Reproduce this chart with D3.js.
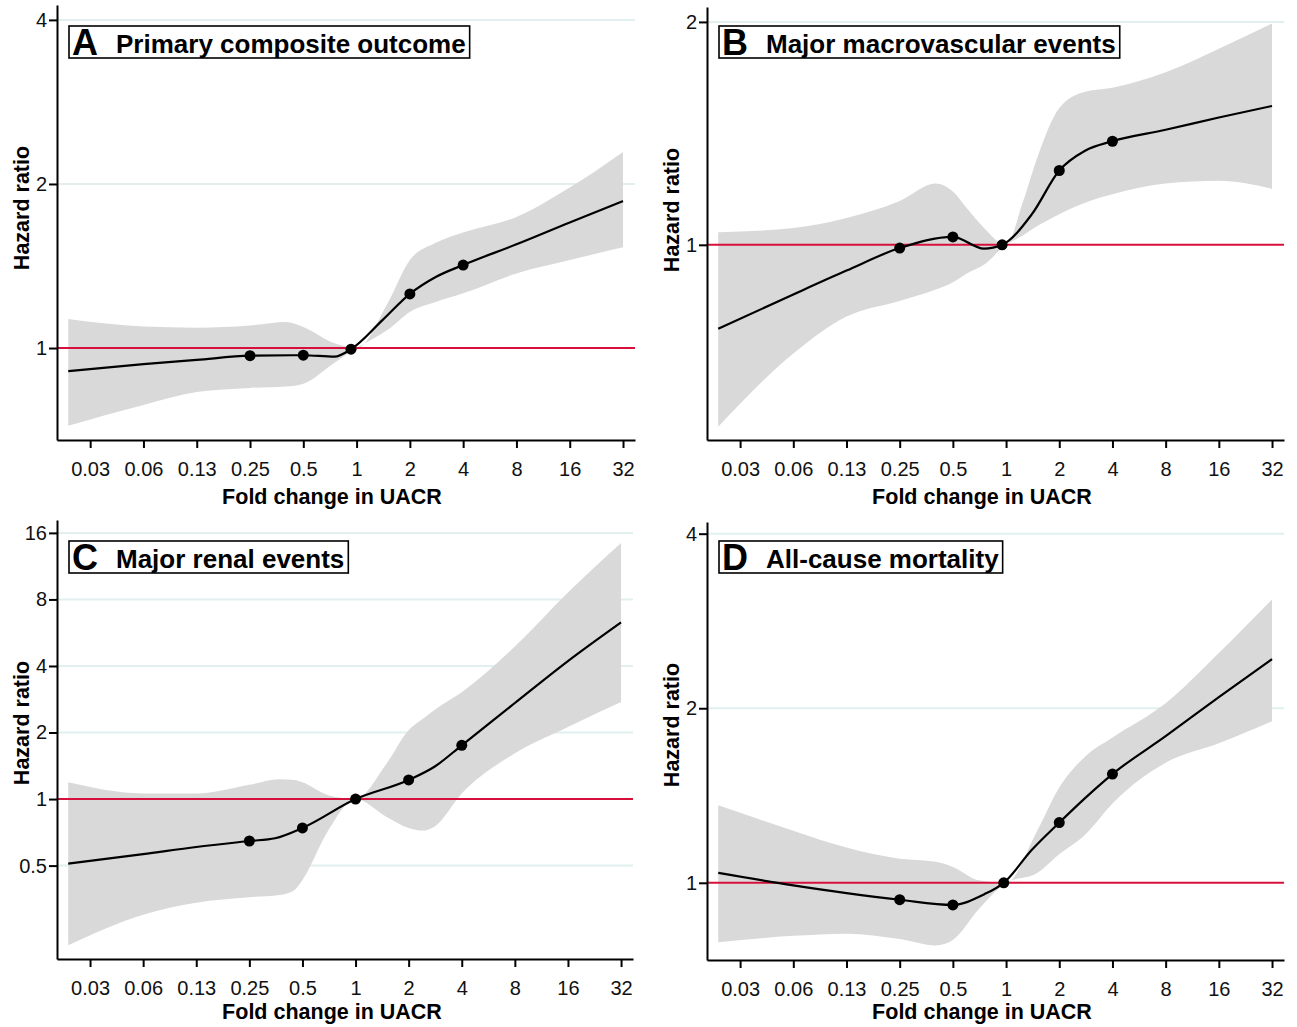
<!DOCTYPE html>
<html>
<head>
<meta charset="utf-8">
<script src="https://cdn.jsdelivr.net/npm/d3@7"></script>
<style>
  body { margin: 0; background: #fff; }
  svg { display: block; font-family: "Liberation Sans", Arial, sans-serif; }
</style>
</head>
<body>
<div id="wrapper"></div>
<script>
// x axis (fold change in UACR), shared by all panels
const foldTicks = [1 / 32, 1 / 16, 1 / 8, 1 / 4, 1 / 2, 1, 2, 4, 8, 16, 32];
const foldTickLabels = ["0.03", "0.06", "0.13", "0.25", "0.5", "1", "2", "4", "8", "16", "32"];

// A. Primary composite outcome
const yTicksA = [1, 2, 4];
const lineFoldA = [0.0235, 0.0625, 0.125, 0.25, 0.5, 0.75, 0.93, 1.4, 2, 2.8, 4, 8, 16, 32];
const lineHrA = [0.907, 0.934, 0.951, 0.968, 0.970, 0.964, 0.995, 1.125, 1.257, 1.35, 1.42, 1.55, 1.70, 1.86];
const dotFoldA = [0.25, 0.5, 0.93, 2, 4];
const dotHrA = [0.968, 0.970, 0.995, 1.257, 1.42];
const bandFoldA = [0.0235, 0.0625, 0.125, 0.25, 0.4, 0.5, 0.75, 1, 1.5, 2, 2.8, 4, 8, 16, 32];
const bandLoA = [0.72, 0.786, 0.83, 0.845, 0.85, 0.86, 0.94, 1.0, 1.08, 1.165, 1.215, 1.26, 1.37, 1.45, 1.53];
const bandHiA = [1.13, 1.095, 1.09, 1.10, 1.116, 1.093, 1.02, 1.0, 1.21, 1.45, 1.56, 1.63, 1.74, 1.97, 2.29];

// B. Major macrovascular events
const yTicksB = [1, 2];
const lineFoldB = [0.0235, 0.0625, 0.125, 0.25, 0.5, 0.75, 0.95, 1.4, 2, 2.8, 4, 8, 16, 32];
const lineHrB = [0.77, 0.857, 0.923, 0.99, 1.025, 0.988, 1.0, 1.10, 1.26, 1.34, 1.38, 1.43, 1.486, 1.54];
const dotFoldB = [0.25, 0.5, 0.95, 2, 4];
const dotHrB = [0.99, 1.025, 1.0, 1.26, 1.38];
const bandFoldB = [0.0235, 0.0625, 0.125, 0.25, 0.4, 0.5, 0.6, 0.75, 1, 1.25, 1.5, 2, 2.8, 4, 8, 16, 32];
const bandLoB = [0.568, 0.713, 0.80, 0.84, 0.87, 0.89, 0.915, 0.94, 1.0, 1.03, 1.06, 1.10, 1.14, 1.17, 1.21, 1.22, 1.19];
const bandHiB = [1.04, 1.054, 1.087, 1.146, 1.21, 1.18, 1.12, 1.054, 1.0, 1.146, 1.31, 1.53, 1.61, 1.63, 1.71, 1.84, 1.99];

// C. Major renal events
const yTicksC = [0.5, 1, 2, 4, 8, 16];
const lineFoldC = [0.0235, 0.0625, 0.125, 0.25, 0.35, 0.5, 1, 2, 2.8, 4, 8, 16, 32];
const lineHrC = [0.51, 0.563, 0.607, 0.646, 0.665, 0.74, 1.0, 1.22, 1.40, 1.75, 2.72, 4.21, 6.3];
const dotFoldC = [0.25, 0.5, 1, 2, 4];
const dotHrC = [0.646, 0.74, 1.0, 1.22, 1.75];
const bandFoldC = [0.0235, 0.0625, 0.125, 0.25, 0.37, 0.45, 0.5, 0.7, 1, 1.5, 2, 2.4, 2.8, 4, 8, 16, 32];
const bandLoC = [0.218, 0.30, 0.34, 0.36, 0.368, 0.387, 0.43, 0.72, 1.0, 0.83, 0.74, 0.72, 0.75, 1.06, 1.61, 2.12, 2.75];
const bandHiC = [1.19, 1.06, 1.06, 1.16, 1.23, 1.22, 1.19, 1.04, 1.0, 1.45, 2.05, 2.3, 2.53, 3.04, 4.9, 8.6, 14.4];

// D. All-cause mortality
const yTicksD = [1, 2, 4];
const lineFoldD = [0.0235, 0.0625, 0.125, 0.25, 0.5, 0.75, 0.97, 1.4, 2, 2.8, 4, 8, 16, 32];
const lineHrD = [1.04, 0.99, 0.96, 0.935, 0.916, 0.955, 1.0, 1.14, 1.27, 1.40, 1.54, 1.79, 2.09, 2.43];
const dotFoldD = [0.25, 0.5, 0.97, 2, 4];
const dotHrD = [0.935, 0.916, 1.0, 1.27, 1.54];
const bandFoldD = [0.0235, 0.0625, 0.125, 0.25, 0.4, 0.5, 0.7, 1, 1.5, 2, 2.8, 4, 8, 16, 32];
const bandLoD = [0.79, 0.81, 0.817, 0.80, 0.78, 0.797, 0.90, 1.0, 1.04, 1.12, 1.21, 1.37, 1.61, 1.74, 1.9];
const bandHiD = [1.36, 1.23, 1.15, 1.10, 1.087, 1.065, 1.01, 1.0, 1.23, 1.46, 1.65, 1.78, 2.04, 2.49, 3.08];

const RED = "#d5103b";
const BAND = "#d9d9d9";
const GRID = "#e1efef";

const zip = (fold, vals) => fold.map((f, i) => ({ f, hr: vals[i] }));

const panels = [
  { letter: "A", title: "Primary composite outcome", ox: 0, oy: 0,
    left: 57, top: 5, right: 635, bottom: 440, yDomain: [0.678, 4.26], yTicks: yTicksA,
    line: zip(lineFoldA, lineHrA), dots: zip(dotFoldA, dotHrA),
    band: bandFoldA.map((f, i) => ({ f, lo: bandLoA[i], hi: bandHiA[i] })) },
  { letter: "B", title: "Major macrovascular events", ox: 650, oy: 0,
    left: 707, top: 7, right: 1284, bottom: 440, yDomain: [0.545, 2.095], yTicks: yTicksB,
    line: zip(lineFoldB, lineHrB), dots: zip(dotFoldB, dotHrB),
    band: bandFoldB.map((f, i) => ({ f, lo: bandLoB[i], hi: bandHiB[i] })) },
  { letter: "C", title: "Major renal events", ox: 0, oy: 515,
    left: 57, top: 520, right: 633, bottom: 959, yDomain: [0.189, 18.3], yTicks: yTicksC,
    line: zip(lineFoldC, lineHrC), dots: zip(dotFoldC, dotHrC),
    band: bandFoldC.map((f, i) => ({ f, lo: bandLoC[i], hi: bandHiC[i] })) },
  { letter: "D", title: "All-cause mortality", ox: 650, oy: 515,
    left: 707, top: 522, right: 1284, bottom: 960, yDomain: [0.736, 4.19], yTicks: yTicksD,
    line: zip(lineFoldD, lineHrD), dots: zip(dotFoldD, dotHrD),
    band: bandFoldD.map((f, i) => ({ f, lo: bandLoD[i], hi: bandHiD[i] })) },
];

const xDomain = [0.0203, 37.4];

const svg = d3.select("#wrapper")
  .append("svg")
    .attr("width", 1297)
    .attr("height", 1027);

panels.forEach(p => {
  const x = d3.scaleLog().base(2).domain(xDomain).range([p.left, p.right]);
  const y = d3.scaleLog().base(2).domain(p.yDomain).range([p.bottom, p.top]);
  const g = svg.append("g");

  // gridlines (behind the band)
  g.append("g").selectAll("line")
    .data(p.yTicks.filter(v => v !== 1))
    .join("line")
      .attr("x1", p.left).attr("x2", p.right)
      .attr("y1", d => y(d)).attr("y2", d => y(d))
      .attr("stroke", GRID).attr("stroke-width", 2);

  // confidence band
  const area = d3.area()
    .x(d => x(d.f))
    .y0(d => y(d.lo))
    .y1(d => y(d.hi))
    .curve(d3.curveMonotoneX);
  g.append("path")
    .attr("d", area(p.band))
    .attr("fill", BAND);

  // reference line at HR = 1
  g.append("line")
    .attr("x1", p.left).attr("x2", p.right)
    .attr("y1", y(1)).attr("y2", y(1))
    .attr("stroke", RED).attr("stroke-width", 2);

  // spline
  const line = d3.line()
    .x(d => x(d.f))
    .y(d => y(d.hr))
    .curve(d3.curveMonotoneX);
  g.append("path")
    .attr("d", line(p.line))
    .attr("fill", "none")
    .attr("stroke", "#000")
    .attr("stroke-width", 2.2);

  g.append("g").selectAll("circle")
    .data(p.dots)
    .join("circle")
      .attr("cx", d => x(d.f))
      .attr("cy", d => y(d.hr))
      .attr("r", 5.5)
      .attr("fill", "#000");

  // axes
  const xAxis = d3.axisBottom(x)
    .tickValues(foldTicks)
    .tickFormat((d, i) => foldTickLabels[i])
    .tickSize(8).tickSizeOuter(0).tickPadding(14);
  const xg = g.append("g")
    .attr("transform", `translate(0,${p.bottom})`)
    .call(xAxis);

  const yAxis = d3.axisLeft(y)
    .tickValues(p.yTicks)
    .tickFormat(d3.format("~g"))
    .tickSize(8).tickSizeOuter(0).tickPadding(2);
  const yg = g.append("g")
    .attr("transform", `translate(${p.left},0)`)
    .call(yAxis);

  [xg, yg].forEach(a => {
    a.select(".domain").attr("stroke", "#000").attr("stroke-width", 2);
    a.selectAll(".tick line").attr("stroke", "#000").attr("stroke-width", 2);
    a.selectAll(".tick text")
      .attr("fill", "#111")
      .style("font-size", "20px")
      .style("font-family", "'Liberation Sans', Arial, sans-serif");
  });

  // axis titles
  g.append("text")
    .attr("x", p.ox + 332)
    .attr("y", p.oy + 504)
    .attr("text-anchor", "middle")
    .style("font-size", "21.5px")
    .style("font-weight", "bold")
    .text("Fold change in UACR");

  g.append("text")
    .attr("transform", `translate(${p.ox + 29},${p.top + 203}) rotate(-90)`)
    .attr("text-anchor", "middle")
    .style("font-size", "21.5px")
    .style("font-weight", "bold")
    .text("Hazard ratio");

  // panel title box
  const bx = p.ox + 69, by = p.oy + 26;
  const box = g.append("g");
  const rect = box.append("rect")
    .attr("x", bx).attr("y", by)
    .attr("height", 32)
    .attr("fill", "#fff")
    .attr("stroke", "#000")
    .attr("stroke-width", 1.6);
  box.append("text")
    .attr("x", bx + 3).attr("y", by + 29)
    .style("font-size", "36px")
    .style("font-weight", "bold")
    .text(p.letter);
  const t = box.append("text")
    .attr("x", bx + 47).attr("y", by + 27)
    .style("font-size", "26px")
    .style("font-weight", "bold")
    .text(p.title);
  const w = t.node().getComputedTextLength();
  rect.attr("width", 47 + w + 4);
});
</script>
</body>
</html>
